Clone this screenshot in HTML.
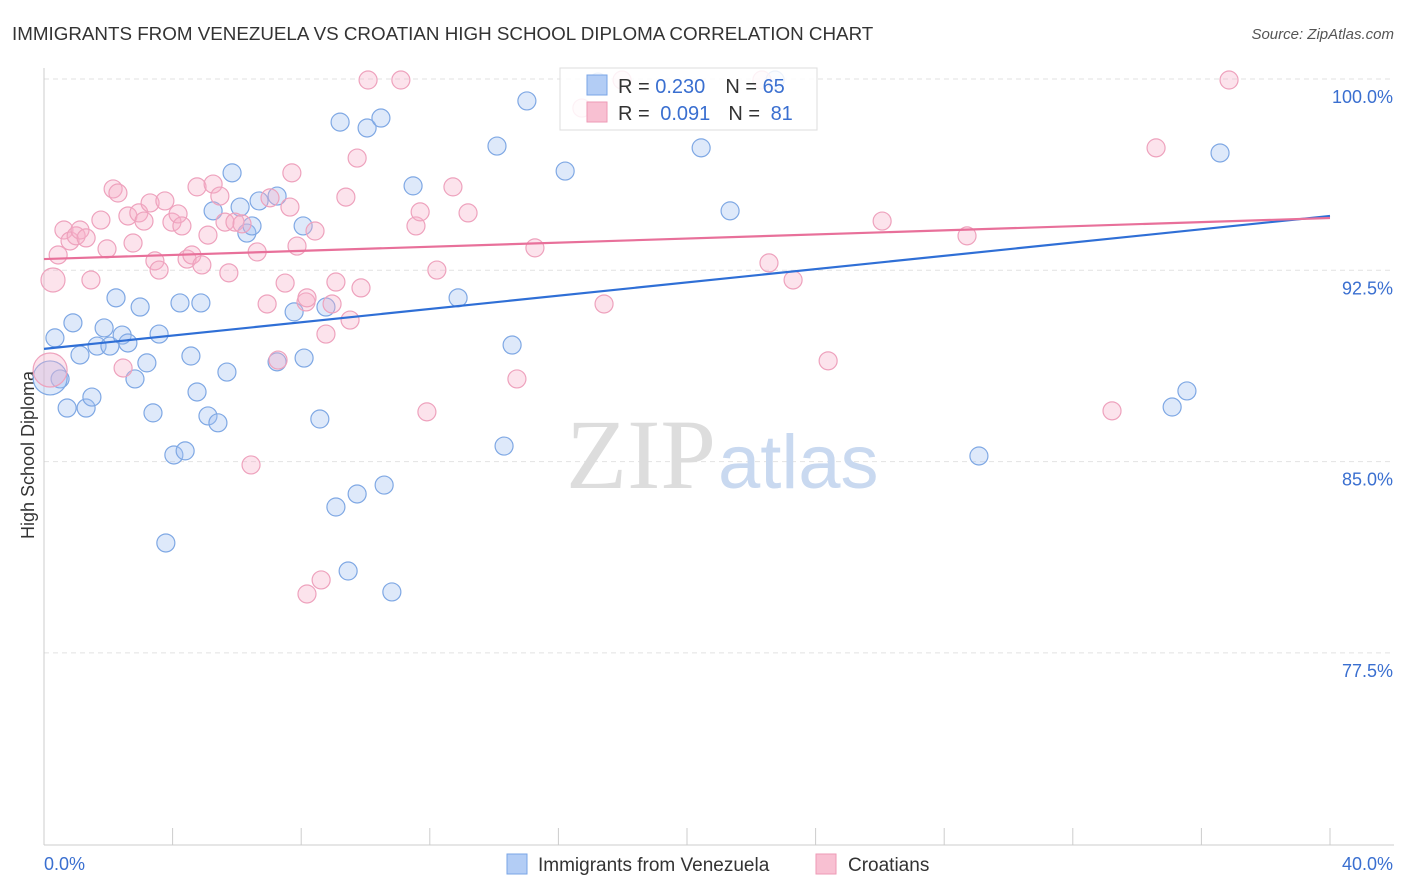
<!DOCTYPE html>
<html><head><meta charset="utf-8"><style>
body{margin:0;background:#fff;font-family:"Liberation Sans",sans-serif;}
svg{display:block}
</style></head><body>
<svg id="chart" width="1406" height="892">
<text x="12" y="40" font-size="18.8" fill="#333">IMMIGRANTS FROM VENEZUELA VS CROATIAN HIGH SCHOOL DIPLOMA CORRELATION CHART</text>
<text x="1394" y="39" font-size="15" fill="#555" font-style="italic" text-anchor="end">Source: ZipAtlas.com</text>
<text x="0" y="0" transform="translate(34,455) rotate(-90)" font-size="18" fill="#333" text-anchor="middle">High School Diploma</text>
<g id="grid"></g>
<g id="axes"></g>
<text x="716" y="488" font-size="100" fill="#ddd" text-anchor="end" font-family="Liberation Serif">ZIP</text>
<text x="718" y="488" font-size="76" fill="#c9d9f0">atlas</text>
<g id="pts"></g>
<g id="lines"></g>
<g>
<rect x="560" y="68" width="257" height="62" fill="#fff" fill-opacity="0.85" stroke="#ddd"/>
<rect x="587" y="75" width="20" height="20" fill="#b3cdf5" stroke="#7aa5e6"/>
<rect x="587" y="102" width="20" height="20" fill="#f8c0d2" stroke="#ee9ab6"/>
<text x="618" y="93" font-size="20" fill="#333">R = <tspan fill="#3a6fd0">0.230</tspan><tspan dx="20">N = </tspan><tspan fill="#3a6fd0">65</tspan></text>
<text x="618" y="120" font-size="20" fill="#333">R = <tspan fill="#3a6fd0" dx="5">0.091</tspan><tspan dx="18">N = </tspan><tspan fill="#3a6fd0" dx="5">81</tspan></text>
</g>
<g>
<rect x="507" y="854" width="20" height="20" fill="#b3cdf5" stroke="#7aa5e6"/>
<text x="538" y="871" font-size="19" fill="#333">Immigrants from Venezuela</text>
<rect x="816" y="854" width="20" height="20" fill="#f8c0d2" stroke="#ee9ab6"/>
<text x="848" y="871" font-size="19" fill="#333">Croatians</text>
</g>
</svg>
<script>
const blueX=[0.34,0.50,0.72,0.90,1.12,1.31,1.49,1.65,1.87,2.05,2.24,2.43,2.61,2.83,2.99,3.20,3.39,3.58,3.79,4.04,4.23,4.39,4.57,4.76,4.88,5.10,5.26,5.41,5.69,5.85,6.10,6.31,6.47,6.69,7.25,7.25,7.78,8.06,8.09,8.58,8.77,9.08,9.21,9.46,9.74,10.05,10.48,10.58,10.82,11.48,12.88,14.09,14.31,14.56,15.02,16.21,17.23,20.44,21.34,22.74,29.08,35.09,35.55,36.58,0.19];
const blueY=[89.85,88.24,87.10,90.44,89.18,87.10,87.53,89.53,90.24,89.53,91.42,89.96,89.65,88.24,91.06,88.87,86.91,90.00,81.81,85.26,91.22,85.42,89.14,87.73,91.22,86.79,94.83,86.52,88.51,96.32,94.98,93.96,94.24,95.22,95.41,88.91,90.87,94.24,89.06,86.67,91.06,83.22,98.31,80.71,83.73,98.08,98.47,84.08,79.89,95.81,91.42,97.37,85.61,89.57,99.14,96.39,99.88,97.30,94.83,99.96,85.22,87.14,87.77,97.10,88.28];
const pinkX=[0.28,0.44,0.62,0.81,1.00,1.12,1.31,1.46,1.77,1.96,2.15,2.30,2.46,2.61,2.77,2.95,3.11,3.30,3.45,3.58,3.76,3.98,4.17,4.29,4.45,4.60,4.76,4.91,5.10,5.26,5.47,5.63,5.75,5.94,6.16,6.44,6.63,6.94,7.03,7.28,7.50,7.65,7.71,7.87,8.15,8.43,8.62,8.77,8.96,9.08,9.39,9.52,9.74,9.86,10.08,11.10,11.57,11.70,11.91,12.22,12.72,13.19,14.71,15.27,16.73,17.42,17.98,22.55,23.30,24.39,26.07,28.71,33.22,34.59,36.86,0.19,22.33,8.18,8.18];
const pinkY=[92.12,93.10,94.08,93.65,93.85,94.08,93.77,92.12,94.47,93.34,95.69,95.53,88.67,94.63,93.57,94.75,94.43,95.14,92.87,92.51,95.22,94.39,94.71,94.24,92.94,93.10,95.77,92.71,93.88,95.88,95.41,94.39,92.40,94.39,94.32,84.87,93.22,91.18,95.34,88.98,92.00,94.98,96.32,93.45,91.26,94.04,80.36,90.00,91.18,92.04,95.37,90.55,96.90,91.81,99.96,99.96,94.24,94.79,86.95,92.51,95.77,94.75,88.24,93.38,98.86,91.18,99.96,92.79,92.12,88.95,94.43,93.85,86.99,97.30,99.96,88.59,99.96,91.42,79.81];
const blueTrend=[89.42,94.63];
const pinkTrend=[92.94,94.55];
const yTicks=[100,92.5,85,77.5];
const yTickLabels=["100.0%","92.5%","85.0%","77.5%"];
const xTicks=[0,4,8,12,16,20,24,28,32,36,40];

const NS="http://www.w3.org/2000/svg";
const X=v=>44+v/40*1286;
const Y=v=>79+(100-v)/7.5*191.3;
function mk(p,t,a){const e=document.createElementNS(NS,t);for(const k in a)e.setAttribute(k,a[k]);p.appendChild(e);return e;}
const grid=document.getElementById('grid'),axes=document.getElementById('axes');
yTicks.forEach((v,i)=>{
  const l=mk(grid,'line',{x1:44,x2:1394,y1:Y(v),y2:Y(v),stroke:'#e2e2e2','stroke-dasharray':'5,4'});
  
  
  const t=mk(axes,'text',{x:1393,y:Y(v)+24,'font-size':18,fill:'#3a6fd0','text-anchor':'end'});
  t.textContent=yTickLabels[i];
  
  
});
mk(axes,'line',{x1:44,x2:44,y1:68,y2:845,stroke:'#ccc'});
mk(axes,'line',{x1:44,x2:1394,y1:845,y2:845,stroke:'#ccc'});
xTicks.forEach(v=>{
  const l=mk(axes,'line',{x1:X(v),x2:X(v),y1:828,y2:845,stroke:'#ccc'});
  
  
});
const t0=mk(axes,'text',{x:44,y:870,'font-size':18,fill:'#3a6fd0'});t0.textContent='0.0%';


const t1=mk(axes,'text',{x:1393,y:870,'font-size':18,fill:'#3a6fd0','text-anchor':'end'});t1.textContent='40.0%';


const pts=document.getElementById('pts');
function draw(xs,ys,fill,stroke,name){
  xs.forEach((x,i)=>{
    const big=(i===xs.length-1 && name==='venezuela-point')||(name==='croatian-point'&&(i===0||i===75));
    const c=mk(pts,'circle',{cx:X(x),cy:Y(ys[i]),r:big?(i===0?12:17):9,fill:fill,stroke:stroke,'stroke-width':1.2});
    
    
  });
}
draw(blueX,blueY,'rgba(160,192,240,0.35)','#7fa8e4','venezuela-point');
draw(pinkX,pinkY,'rgba(246,175,200,0.35)','#eea2bd','croatian-point');
const lines=document.getElementById('lines');
const bl=mk(lines,'line',{x1:X(0),y1:Y(blueTrend[0]),x2:X(40),y2:Y(blueTrend[1]),stroke:'#2f6fd6','stroke-width':2.2});


const pl=mk(lines,'line',{x1:X(0),y1:Y(pinkTrend[0]),x2:X(40),y2:Y(pinkTrend[1]),stroke:'#e8709a','stroke-width':2.2});


</script>
</body></html>
